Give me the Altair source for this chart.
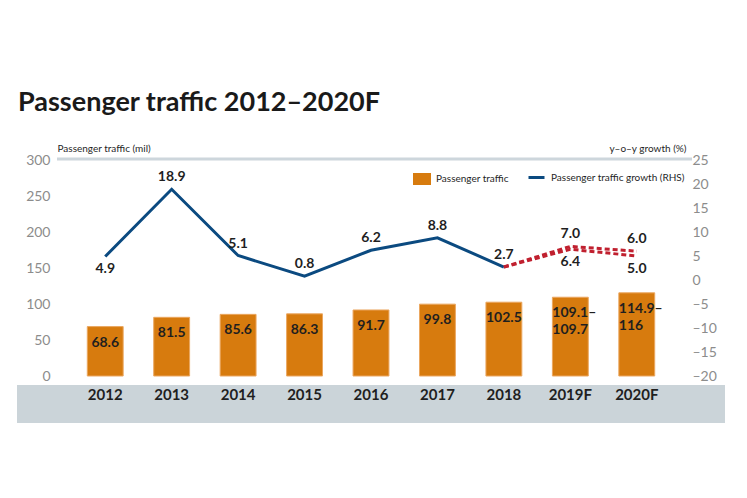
import altair as alt
import pandas as pd

# ---- data ----
years = ["2012", "2013", "2014", "2015", "2016", "2017", "2018", "2019F", "2020F"]
traffic = [68.6, 81.5, 85.6, 86.3, 91.7, 99.8, 102.5, 109.4, 115.5]
traffic_labels = ["68.6", "81.5", "85.6", "86.3", "91.7", "99.8", "102.5",
                  "109.1–\n109.7", "114.9–\n116"]

growth_years = ["2012", "2013", "2014", "2015", "2016", "2017", "2018"]
growth = [4.9, 18.9, 5.1, 0.8, 6.2, 8.8, 2.7]

forecast_years = ["2018", "2019F", "2020F"]
forecast_high = [2.7, 7.0, 6.0]
forecast_low = [2.7, 6.4, 5.0]

glabel_years = growth_years + ["2019F", "2019F", "2020F", "2020F"]
glabel_values = growth + [7.0, 6.4, 6.0, 5.0]
glabel_pos = ["below", "above", "above", "above", "above", "above", "above",
              "above", "below", "above", "below"]

left_ticks = [0, 50, 100, 150, 200, 250, 300]
right_ticks = [-20, -15, -10, -5, 0, 5, 10, 15, 20, 25]

# ---- tables ----
df_bar = pd.DataFrame({"year": years, "traffic": traffic, "label": traffic_labels,
                       "series": "Passenger traffic"})
df_bar["multi"] = df_bar["label"].str.contains("\n")
df_line = pd.DataFrame({"year": growth_years, "growth": growth,
                        "series": "Passenger traffic growth (RHS)"})
df_fc = pd.DataFrame({
    "year": forecast_years * 2,
    "growth": forecast_high + forecast_low,
    "case": ["high"] * 3 + ["low"] * 3,
})
df_gl = pd.DataFrame({"year": glabel_years, "growth": glabel_values, "pos": glabel_pos})
one = pd.DataFrame({"a": [0]})

W, H = 598, 216
FONT = "Lato"
DARK = "#1f1f1f"
ORANGE = "#d77b0e"
BLUE = "#0b4a80"
RED = "#c0202f"
GREY = "#cbd4d9"

x_enc = alt.X("year:N", sort=years,
              scale=alt.Scale(paddingInner=0.46, paddingOuter=0.23),
              axis=alt.Axis(title=None, labelAngle=0, labelFont=FONT, labelFontSize=15,
                            labelFontWeight="bold", labelColor=DARK, labelPadding=11,
                            ticks=False, domain=False, zindex=1))

yL = alt.Y("traffic:Q", scale=alt.Scale(domain=[0, 300], nice=False),
           axis=alt.Axis(values=left_ticks, title="Passenger traffic (mil)", titleAngle=0,
                         titleX=-15, titleY=-7, titleAlign="left", titleBaseline="bottom",
                         titleFont=FONT, titleFontSize=10, titleFontWeight="normal",
                         titleColor=DARK, labelFont=FONT, labelFontSize=14,
                         labelColor="#8c8c8c", labelPadding=22, ticks=False,
                         domain=False, grid=False))

yR = alt.Y("growth:Q", scale=alt.Scale(domain=[-20, 25], nice=False, zero=False),
           axis=alt.Axis(values=right_ticks, orient="right", title="y–o–y growth (%)",
                         titleAngle=0, titleX=16, titleY=-7, titleAlign="right",
                         titleBaseline="bottom", titleFont=FONT, titleFontSize=10,
                         titleFontWeight="normal", titleColor=DARK, labelFont=FONT,
                         labelFontSize=14, labelColor="#8c8c8c", labelPadding=22,
                         ticks=False, domain=False, grid=False,
                         labelExpr="datum.value < 0 ? '–' + abs(datum.value) : datum.label"))

band = alt.Chart(one).mark_rect(color=GREY).encode(
    x=alt.value(-55), x2=alt.value(653), y=alt.value(225), y2=alt.value(263))
topline = alt.Chart(one).mark_rule(color="#cdd6dc", strokeWidth=3).encode(
    x=alt.value(-15), x2=alt.value(620), y=alt.value(-1))

bars = alt.Chart(df_bar).mark_bar(stroke="#eba760", strokeWidth=1).encode(
    x=x_enc, y=yL,
    color=alt.Color("series:N",
                    scale=alt.Scale(domain=["Passenger traffic"], range=[ORANGE]),
                    legend=alt.Legend(orient="none", legendX=341, legendY=10, title=None,
                                      symbolType="M-1,-0.667H1V0.667H-1Z", symbolSize=324,
                                      symbolStrokeWidth=0, labelFont=FONT, labelFontSize=10,
                                      labelColor=DARK, labelOffset=5, padding=0)))

txt_kw = dict(font=FONT, fontSize=14, fontWeight="bold", color=DARK)
bar_txt1 = alt.Chart(df_bar).transform_filter("!datum.multi").mark_text(
    baseline="top", dy=9, **txt_kw).encode(x=x_enc, y=yL, text="label:N")
bar_txt2 = alt.Chart(df_bar).transform_filter("datum.multi").mark_text(
    baseline="top", align="left", dx=-18, dy=9, lineBreak="\n", lineHeight=17,
    **txt_kw).encode(x=x_enc, y=yL, text="label:N")

left = alt.layer(band, topline, bars, bar_txt1, bar_txt2)

line = alt.Chart(df_line).mark_line(strokeWidth=3).encode(
    x=x_enc, y=yR,
    stroke=alt.Stroke("series:N",
                      scale=alt.Scale(domain=["Passenger traffic growth (RHS)"], range=[BLUE]),
                      legend=alt.Legend(orient="none", legendX=455, legendY=8, title=None,
                                        symbolType="stroke", symbolSize=256,
                                        symbolStrokeWidth=3, labelFont=FONT,
                                        labelFontSize=10, labelColor=DARK,
                                        labelOffset=5, padding=0)))
fc = alt.Chart(df_fc).mark_line(strokeWidth=3, color=RED, strokeDash=[5, 3]).encode(
    x=x_enc, y=yR, detail="case:N")
gl_above = alt.Chart(df_gl).transform_filter("datum.pos == 'above'").mark_text(
    baseline="middle", dy=-12, **txt_kw).encode(x=x_enc, y=yR, text=alt.Text("growth:Q", format=".1f"))
gl_below = alt.Chart(df_gl).transform_filter("datum.pos == 'below'").mark_text(
    baseline="middle", dy=13, **txt_kw).encode(x=x_enc, y=yR, text=alt.Text("growth:Q", format=".1f"))

right = alt.layer(line, fc, gl_above, gl_below)

chart = alt.layer(left, right).resolve_scale(y="independent").properties(
    width=W, height=H,
    autosize=alt.AutoSizeParams(type="none"),
    padding={"left": 72, "top": 160, "right": 77, "bottom": 122},
    title=alt.TitleParams("Passenger traffic 2012–2020F", anchor="start", frame="group",
                          font=FONT, fontSize=27, fontWeight="bold", color="#1a1a1a",
                          dx=-54, offset=26),
).configure(background="white", view=alt.ViewConfig(stroke=None))

chart.save("out.html", embed_options={"renderer": "svg", "actions": False})
